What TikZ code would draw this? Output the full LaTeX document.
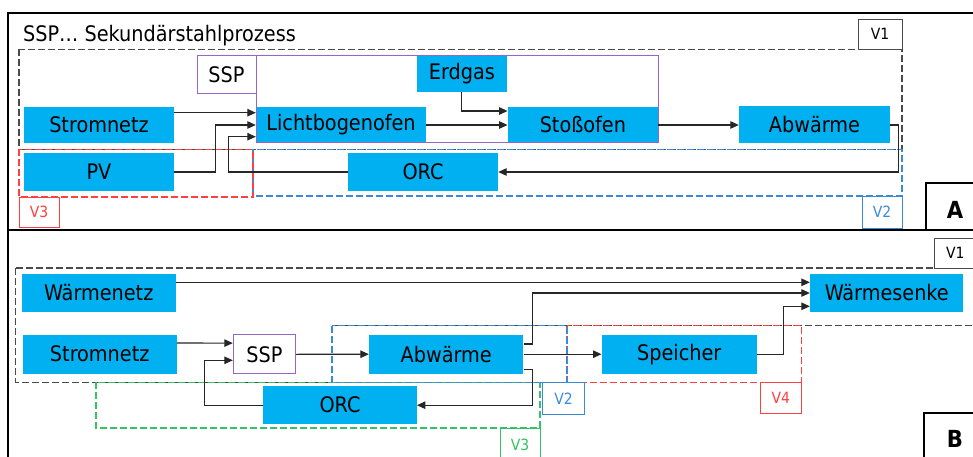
\documentclass[tikz,border=0pt]{standalone}
\usepackage{fontspec}
\setmainfont{DejaVu Sans Condensed}
\usetikzlibrary{arrows.meta}
\definecolor{boxcyan}{HTML}{00B0F0}
\definecolor{ssppurple}{HTML}{9466C8}
\definecolor{vgray}{HTML}{4A4A4A}
\definecolor{vred}{HTML}{FF4040}
\definecolor{vblue}{HTML}{3B8AD8}
\definecolor{vgreen}{HTML}{33C264}
\definecolor{linegray}{HTML}{262626}

\begin{document}
\begin{tikzpicture}[x=1pt,y=-1pt,
  proc/.style={fill=boxcyan, draw=none, inner sep=0pt, text=black,
    font=\fontsize{21.4}{24}\selectfont},
  sspbox/.style={fill=white, draw=ssppurple, line width=1pt, inner sep=0pt,
    font=\fontsize{21.4}{24}\selectfont},
  arr/.style={draw=linegray, line width=1.1pt, -{Triangle[length=8.5pt,width=7.5pt]}},
  vzone/.style={dash pattern=on 7pt off 3pt, line width=1.2pt},
  vtag/.style={draw, fill=white, line width=1pt, inner sep=0pt,
    font=\fontsize{15.5}{17}\selectfont},
  frameline/.style={line width=2pt, draw=black},
  letterbox/.style={draw=black, line width=2pt, fill=white, inner sep=0pt},
  letter/.style={font=\fontsize{23.5}{26}\selectfont\bfseries, inner sep=0pt},
]
\useasboundingbox (0,0) rectangle (973,457);
\clip (0,0) rectangle (973,457);
\fill[white] (0,0) rectangle (973,457);

% ---------------- outer frame ----------------
\draw[frameline] (990,12.7) -- (8.3,12.7) -- (8.3,470);
\draw[frameline] (8.3,230) -- (990,230);

% ================= Panel A =================
\node[anchor=base west, inner sep=0pt, font=\fontsize{21.4}{24}\selectfont]
  (title) at (23,41.7) {SSP… Sekundärstahlprozess};

% variant zones
\draw[vzone, draw=vgray] (19,49.3) rectangle (902,149.3);
\draw[vzone, draw=vblue] (253,149.3) rectangle (902,196);
\draw[vzone, draw=vred]  (19,149.3) rectangle (253,197);

\node[vtag, draw=vgray, minimum width=44pt, minimum height=30pt] (v1a) at (880,34.3) {V1};
\node[vtag, draw=vred, text=vred, minimum width=40pt, minimum height=30pt] (v3a) at (39,212) {V3};
\node[vtag, draw=vblue, text=vblue, minimum width=40pt, minimum height=32pt] (v2a) at (882,212) {V2};

% process boxes
\node[proc, minimum width=150pt, minimum height=36pt] (strA) at (99,125) {Stromnetz};
\node[proc, minimum width=150pt, minimum height=38pt] (pv)   at (99,172) {PV};
\node[proc, minimum width=170pt, minimum height=36pt] (lbo)  at (341,125) {Lichtbogenofen};
\node[proc, minimum width=90pt,  minimum height=36.6pt] (erd) at (461.9,74) {Erdgas};
\node[proc, minimum width=150.3pt, minimum height=36pt] (sto) at (582.9,125) {Stoßofen};
\node[proc, minimum width=151pt, minimum height=37pt] (abwA) at (814.5,125) {Abwärme};
\node[proc, minimum width=150pt, minimum height=38pt] (orcA) at (423,172) {ORC};

% SSP boundary
\draw[ssppurple, line width=1pt] (256,55.7) rectangle (658,143);
\node[sspbox, minimum width=59pt, minimum height=37.3pt] (sspA) at (226.5,74.4) {SSP};

% flows
\draw[arr] ([yshift=12.3pt]strA.east) -- ([yshift=12.3pt]lbo.west);
\draw[arr] (pv.east) -- ++(41.7,0) |- (lbo.west);
\draw[arr] (orcA.west) -- (228.3,172) |- ([yshift=-11.7pt]lbo.west);
\draw[arr] (erd.south) |- ([yshift=14pt]sto.west);
\draw[arr] (lbo.east) -- (sto.west);
\draw[arr] (sto.east) -- (abwA.west);
\draw[arr] (abwA.east) -- ++(8.3,0) |- (orcA.east);

% panel letter
\node[letterbox, minimum width=60pt, minimum height=47pt] (panA) at (955.5,206.5) {};
\node[letter] (panAtxt) at (955,210) {A};

% ================= Panel B =================
% variant zones
\draw[vzone, draw=vgray] (15.7,268) -- (990,268) -- (990,325.7) -- (332,325.7)
  -- (332,382.3) -- (15.7,382.3) -- cycle;
\draw[vzone, draw=vgreen] (96,382.3) rectangle (540,428);
\draw[vzone, draw=vred]   (567,325.7) rectangle (801.7,382.3);
\draw[vzone, draw=vblue]  (332,325.7) rectangle (567,382.3);

\node[vtag, draw=vgray, minimum width=41.3pt, minimum height=30pt] (v1b) at (955.4,253) {V1};
\node[vtag, draw=vblue, text=vblue, minimum width=41.6pt, minimum height=32.4pt] (v2b) at (563.5,398.5) {V2};
\node[vtag, draw=vred, text=vred, minimum width=41.7pt, minimum height=31.4pt] (v4b) at (780.9,398) {V4};
\node[vtag, draw=vgreen, text=vgreen, minimum width=40pt, minimum height=34pt] (v3b) at (520,445) {V3};

% process boxes
\node[proc, minimum width=154pt, minimum height=38.6pt] (wn)     at (98.7,293) {Wärmenetz};
\node[proc, minimum width=153.3pt, minimum height=38.6pt] (wsenke) at (886.7,293) {Wärmesenke};
\node[proc, minimum width=154pt, minimum height=39pt] (strB)   at (99.7,354.2) {Stromnetz};
\node[sspbox, minimum width=62.4pt, minimum height=39.3pt] (sspB) at (264.5,354.3) {SSP};
\node[proc, minimum width=154.3pt, minimum height=39pt] (abwB)  at (446.2,354.2) {Abwärme};
\node[proc, minimum width=155pt, minimum height=39.3pt] (spei)  at (679.2,354.2) {Speicher};
\node[proc, minimum width=153.4pt, minimum height=37.7pt] (orcB) at (340,405.2) {ORC};

% flows
\draw[arr] ([yshift=10.7pt]wn.east) -- ([yshift=10.7pt]wsenke.west);
\draw[arr] ([yshift=11.2pt]strB.east) -- ([yshift=11.2pt]sspB.west);
\draw[arr] (orcB.west) -- (204.3,405.2) |- ([yshift=-6pt]sspB.west);
\draw[arr] (sspB.east) -- (abwB.west);
\draw[arr] ([yshift=10.2pt]abwB.east) -- ++(9,0) |- (wsenke.west);
\draw[arr] (abwB.east) -- (spei.west);
\draw[arr] ([yshift=-15.5pt]abwB.east) -- ++(9,0) |- (orcB.east);
\draw[arr] (spei.east) -- ++(26.6,0) |- ([yshift=-13.3pt]wsenke.west);

% panel letter
\node[letterbox, minimum width=61pt, minimum height=57pt] (panB) at (954.8,441.5) {};
\node[letter] (panBtxt) at (955,439) {B};
\end{tikzpicture}
\end{document}
